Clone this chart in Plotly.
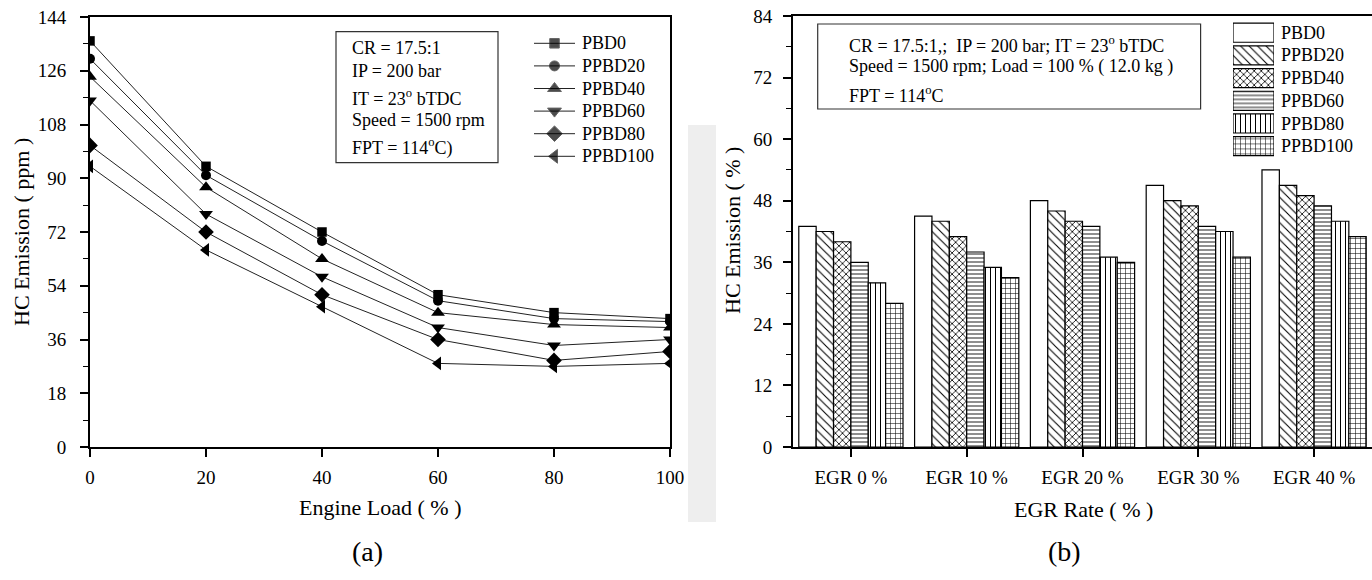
import plotly.graph_objects as go

# ---- data -------------------------------------------------------------
load_pct = [0, 20, 40, 60, 80, 100]
series_names = ["PBD0", "PPBD20", "PPBD40", "PPBD60", "PPBD80", "PPBD100"]

hc_ppm_pbd0 = [136, 94, 72, 51, 45, 43]
hc_ppm_ppbd20 = [130, 91, 69, 49, 43, 42]
hc_ppm_ppbd40 = [124, 87, 63, 45, 41, 40]
hc_ppm_ppbd60 = [116, 78, 57, 40, 34, 36]
hc_ppm_ppbd80 = [101, 72, 51, 36, 29, 32]
hc_ppm_ppbd100 = [94, 66, 47, 28, 27, 28]

egr_labels = ["EGR 0 %", "EGR 10 %", "EGR 20 %", "EGR 30 %", "EGR 40 %"]
hc_pct_pbd0 = [43, 45, 48, 51, 54]
hc_pct_ppbd20 = [42, 44, 46, 48, 51]
hc_pct_ppbd40 = [40, 41, 44, 47, 49]
hc_pct_ppbd60 = [36, 38, 43, 43, 47]
hc_pct_ppbd80 = [32, 35, 37, 42, 44]
hc_pct_ppbd100 = [28, 33, 36, 37, 41]

left_ticks = [0, 18, 36, 54, 72, 90, 108, 126, 144]
right_ticks = [0, 12, 24, 36, 48, 60, 72, 84]

line_series = [hc_ppm_pbd0, hc_ppm_ppbd20, hc_ppm_ppbd40,
               hc_ppm_ppbd60, hc_ppm_ppbd80, hc_ppm_ppbd100]
bar_series = [hc_pct_pbd0, hc_pct_ppbd20, hc_pct_ppbd40,
              hc_pct_ppbd60, hc_pct_ppbd80, hc_pct_ppbd100]

# ---- styling ----------------------------------------------------------
W, H = 1372, 580
FONT = "Liberation Serif, Times New Roman, serif"


def px(x):
    return x / W


def py(y):
    return 1 - y / H


symbols = ["square", "circle", "triangle-up", "triangle-down", "diamond", "triangle-left"]
marker_sizes = [9.5, 10, 12, 12, 12, 12]
patterns = [
    dict(shape=""),
    dict(shape="\\", size=6, solidity=0.18),
    dict(shape="x", size=5, solidity=0.3),
    dict(shape="-", size=4, solidity=0.22),
    dict(shape="|", size=5, solidity=0.2),
    dict(shape="+", size=5, solidity=0.2),
]


def bar_marker(pat):
    m = dict(color="white", line=dict(color="black", width=1.2))
    if pat["shape"]:
        m["pattern"] = dict(fgcolor="black", bgcolor="white",
                            fillmode="replace", **pat)
    return m


fig = go.Figure()

# (a) line chart: HC emission vs engine load
for name, vals, sym, ms in zip(series_names, line_series, symbols, marker_sizes):
    fig.add_trace(go.Scatter(
        x=load_pct, y=vals, name=name, mode="lines+markers",
        line=dict(color="#222", width=1),
        marker=dict(symbol=sym, size=ms, color="black"),
        xaxis="x", yaxis="y", showlegend=False,
    ))

# key for the line chart: short line with the series marker in the middle
for i, (name, sym, ms) in enumerate(zip(series_names, symbols, marker_sizes)):
    fig.add_trace(go.Scatter(
        x=[0, 0.5, 1], y=[i, i, i], mode="lines+markers", name=name,
        line=dict(color="#222", width=1),
        marker=dict(symbol=sym, size=[0, ms, 0], color="black"),
        xaxis="x4", yaxis="y4", showlegend=False, hoverinfo="skip",
        cliponaxis=False,
    ))

# (b) grouped bars: HC emission vs EGR rate
for name, vals, pat in zip(series_names, bar_series, patterns):
    fig.add_trace(go.Bar(
        x=egr_labels, y=vals, name=name, marker=bar_marker(pat),
        xaxis="x2", yaxis="y2", showlegend=False,
    ))

# key for the bar chart: one patterned swatch per series
for i, (name, pat) in enumerate(zip(series_names, patterns)):
    fig.add_trace(go.Bar(
        x=[1], y=[i], orientation="h", width=0.84, marker=bar_marker(pat),
        xaxis="x3", yaxis="y3", showlegend=False, hoverinfo="skip", name=name,
    ))

axis_common = dict(
    showline=True, linecolor="black", linewidth=2, mirror=True,
    showgrid=False, zeroline=False, ticks="outside", ticklen=8,
    tickwidth=1.5, tickcolor="black", automargin=False,
    tickfont=dict(family=FONT, size=19, color="black"),
)
hidden_axis = dict(visible=False, fixedrange=True, automargin=False,
                   showgrid=False, zeroline=False)

plot_top, plot_bottom = 17, 447

fig.update_layout(
    width=W, height=H,
    margin=dict(l=0, r=0, t=0, b=0, autoexpand=False),
    paper_bgcolor="white", plot_bgcolor="white",
    font=dict(family=FONT, color="black", size=18),
    barmode="group", bargap=0.1, bargroupgap=0,
    showlegend=False,
    xaxis=dict(domain=[px(90), px(670)], range=[0, 100],
               tickvals=load_pct, anchor="y", ticklabelstandoff=4,
               **axis_common),
    yaxis=dict(domain=[py(plot_bottom), py(plot_top)], range=[0, 144],
               tickvals=left_ticks, anchor="x", ticklabelstandoff=10,
               minor=dict(ticks="outside", ticklen=5, dtick=9,
                          tickcolor="black", tickwidth=1.2),
               **axis_common),
    xaxis2=dict(domain=[px(793), 1.0], type="category", range=[-0.5, 4.5],
                anchor="y2", ticklabelstandoff=4, **axis_common),
    yaxis2=dict(domain=[py(plot_bottom), py(16)], range=[0, 84],
                tickvals=right_ticks, anchor="x2", ticklabelstandoff=7,
                minor=dict(ticks="outside", ticklen=5, dtick=6,
                           tickcolor="black", tickwidth=1.2),
                **axis_common),
    xaxis3=dict(domain=[px(1233), px(1274)], range=[0, 1], anchor="y3",
                **hidden_axis),
    yaxis3=dict(domain=[py(157.5), py(21.4)], range=[5.5, -0.5], anchor="x3",
                **hidden_axis),
    xaxis4=dict(domain=[px(534), px(575)], range=[0, 1], anchor="y4",
                **hidden_axis),
    yaxis4=dict(domain=[py(167.6), py(32)], range=[5.5, -0.5], anchor="x4",
                **hidden_axis),
)

shapes = [
    # light strip between the two panels
    dict(type="rect", xref="paper", yref="paper", layer="below",
         x0=px(688), x1=px(716), y0=py(522), y1=py(125),
         fillcolor="#eeeeee", line=dict(width=0)),
    dict(type="rect", xref="paper", yref="paper",
         x0=px(336), x1=px(498), y0=py(162.7), y1=py(31.7),
         line=dict(color="#333", width=1.2)),
    dict(type="rect", xref="paper", yref="paper",
         x0=px(817.7), x1=px(1200.6), y0=py(109), y1=py(24),
         line=dict(color="#333", width=1.2)),
]

annotations = []


def text(x, y, s, size=18, xanchor="left", **kw):
    annotations.append(dict(
        x=px(x), y=py(y), xref="paper", yref="paper", text=s,
        showarrow=False, xanchor=xanchor, yanchor="middle",
        font=dict(family=FONT, size=size, color="black"), **kw))


# operating conditions, chart (a)
left_box = ["CR = 17.5:1", "IP = 200 bar", "IT = 23<sup>o</sup> bTDC",
            "Speed = 1500 rpm", "FPT = 114<sup>o</sup>C)"]
for s, base in zip(left_box, [54.3, 77.3, 103.3, 126, 152.7]):
    text(350, base - 6, s)

# operating conditions, chart (b)
right_box = ["CR = 17.5:1,;  IP = 200 bar; IT = 23<sup>o</sup> bTDC",
             "Speed = 1500 rpm; Load = 100 % ( 12.0 kg )",
             "FPT = 114<sup>o</sup>C"]
for s, base in zip(right_box, [50, 72.7, 100]):
    text(847, base - 6, s)

# key labels
for i, name in enumerate(series_names):
    text(580, 43.3 + 22.6 * i, name)
    text(1279, 32.7 + 22.7 * i, name)

# axis titles
text(380, 507.7, "Engine Load ( % )", size=22, xanchor="center")
text(1083, 509, "EGR Rate ( % )", size=22, xanchor="center")
text(21, 232, "HC Emission ( ppm )", size=22, xanchor="center", textangle=-90)
text(733, 231, "HC Emission ( % )", size=22, xanchor="center", textangle=-90)

# panel captions
text(367, 551, "(a)", size=28, xanchor="center")
text(1064, 551, "(b)", size=28, xanchor="center")

fig.update_layout(shapes=shapes, annotations=annotations)

fig.write_html("out.html")
